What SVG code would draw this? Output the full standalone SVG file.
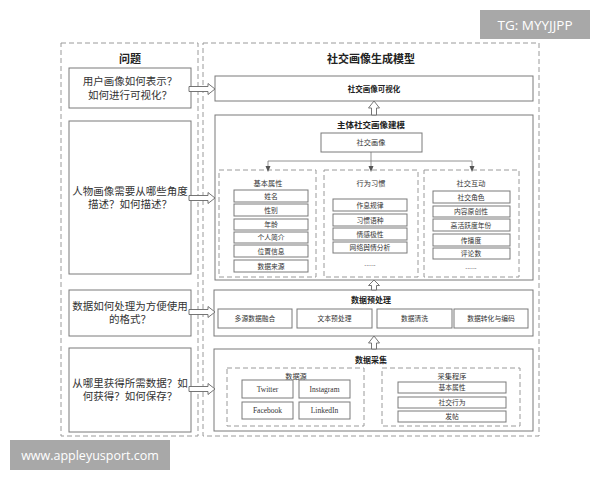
<svg xmlns="http://www.w3.org/2000/svg" width="600" height="480" viewBox="0 0 600 480">
<style>
.box{fill:#fff;stroke:#7a7a7a;stroke-width:1}
.dash{fill:none;stroke:#9a9a9a;stroke-width:1;stroke-dasharray:5,3}
.arr{fill:#fff;stroke:#666;stroke-width:0.9}
.ln{fill:none;stroke:#777;stroke-width:0.8}
.t{font-family:"Liberation Sans","Noto Sans CJK SC",sans-serif;fill:#333;text-anchor:middle}
.q{font-size:10.5px}
.h{font-size:11px;font-weight:bold;fill:#222}
.b{font-size:8px;font-weight:bold;fill:#222}
.s{font-size:7.2px}
.i{font-size:6.8px}
.e{font-family:"Liberation Serif",serif;font-size:7.5px;fill:#333;text-anchor:middle}
.wm{font-family:"Open Sans","DejaVu Sans",sans-serif;fill:#fff;text-anchor:middle}
</style>
<defs>
<path id="harr" class="arr" d="M0,-2.5 H19 V-5.5 L26,0 L19,5.5 V2.5 H0 Z"/>
<marker id="ah" markerWidth="6" markerHeight="6" refX="3" refY="3" orient="auto" markerUnits="userSpaceOnUse"><path d="M0,0.5 L6,3 L0,5.5 Z" fill="#555"/></marker>
</defs>
<rect width="600" height="480" fill="#fff"/>

<!-- columns -->
<g id="col-questions">
<rect class="dash" x="61" y="43" width="137" height="393"/>
<text class="t h" x="130" y="63">问题</text>
</g>
<g id="col-model">
<rect class="dash" x="203" y="43" width="336" height="393"/>
<text class="t h" x="371" y="63">社交画像生成模型</text>
</g>

<!-- questions -->
<g id="q1"><rect class="box" x="69" y="68" width="122" height="40"/>
<text class="t q" x="130" y="85">用户画像如何表示？</text><text class="t q" x="130" y="99">如何进行可视化？</text></g>
<g id="q2"><rect class="box" x="69" y="121" width="122" height="153"/>
<text class="t q" x="130" y="195">人物画像需要从哪些角度</text><text class="t q" x="130" y="208">描述？如何描述？</text></g>
<g id="q3"><rect class="box" x="69" y="290" width="122" height="46"/>
<text class="t q" x="130" y="310">数据如何处理为方便使用</text><text class="t q" x="130" y="323">的格式？</text></g>
<g id="q4"><rect class="box" x="69" y="348" width="122" height="84"/>
<text class="t q" x="130" y="387">从哪里获得所需数据？如</text><text class="t q" x="130" y="400">何获得？如何保存？</text></g>

<!-- visualization -->
<g id="vis"><rect class="box" x="215" y="76" width="318" height="25"/>
<text class="t b" x="374" y="91.5" style="font-size:7.5px">社交画像可视化</text></g>

<!-- modeling -->
<g id="modeling">
<rect class="box" x="215" y="115" width="318" height="165"/>
<text class="t b" x="371" y="128" style="font-size:8.5px">主体社交画像建模</text>
<rect class="box" x="321" y="133" width="101" height="19"/>
<text class="t s" x="371" y="145">社交画像</text>
</g>

<g id="basic">
<rect class="dash" x="219" y="170" width="97" height="107"/>
<text class="t s" x="268" y="186">基本属性</text>
<rect class="box" x="234" y="190" width="74" height="12"/><text class="t i" x="271" y="198.5">姓名</text>
<rect class="box" x="234" y="204" width="74" height="12"/><text class="t i" x="271" y="212.5">性别</text>
<rect class="box" x="234" y="219" width="74" height="11"/><text class="t i" x="271" y="227">年龄</text>
<rect class="box" x="234" y="232" width="74" height="11"/><text class="t i" x="271" y="240">个人简介</text>
<rect class="box" x="234" y="245" width="74" height="12"/><text class="t i" x="271" y="253.5">位置信息</text>
<rect class="box" x="234" y="260" width="74" height="12"/><text class="t i" x="271" y="268.5">数据来源</text>
</g>

<g id="behavior">
<rect class="dash" x="324" y="170" width="94" height="107"/>
<text class="t s" x="371" y="186">行为习惯</text>
<rect class="box" x="333" y="199" width="74" height="12"/><text class="t i" x="370" y="207.5">作息规律</text>
<rect class="box" x="333" y="214" width="74" height="12"/><text class="t i" x="370" y="222.5">习惯语种</text>
<rect class="box" x="333" y="228" width="74" height="12"/><text class="t i" x="370" y="236.5">情感极性</text>
<rect class="box" x="333" y="242" width="74" height="11"/><text class="t i" x="370" y="250">网络舆情分析</text>
<text class="t i" x="370" y="266">......</text>
</g>

<g id="social">
<rect class="dash" x="424" y="170" width="95" height="107"/>
<text class="t s" x="471" y="186">社交互动</text>
<rect class="box" x="433" y="191" width="77" height="12"/><text class="t i" x="471" y="199.5">社交角色</text>
<rect class="box" x="433" y="206" width="77" height="11"/><text class="t i" x="471" y="214">内容原创性</text>
<rect class="box" x="433" y="219" width="77" height="12"/><text class="t i" x="471" y="227.5">高活跃度年份</text>
<rect class="box" x="433" y="234" width="77" height="12"/><text class="t i" x="471" y="242.5">传播度</text>
<rect class="box" x="433" y="248" width="77" height="11"/><text class="t i" x="471" y="256">评论数</text>
<text class="t i" x="471" y="269">......</text>
</g>

<!-- preprocessing -->
<g id="preprocess">
<rect class="box" x="214" y="290" width="319" height="46"/>
<text class="t b" x="371" y="303">数据预处理</text>
<rect class="box" x="218" y="309" width="74" height="19"/><text class="t i" x="255" y="321">多源数据融合</text>
<rect class="box" x="297" y="309" width="75" height="19"/><text class="t i" x="334.5" y="321">文本预处理</text>
<rect class="box" x="377" y="309" width="75" height="19"/><text class="t i" x="414.5" y="321">数据清洗</text>
<rect class="box" x="454" y="309" width="74" height="19"/><text class="t i" x="491" y="321">数据转化与编码</text>
</g>

<!-- collection -->
<g id="collect">
<rect class="box" x="214" y="349" width="319" height="82"/>
<text class="t b" x="371" y="363">数据采集</text>
</g>
<g id="sources">
<rect class="dash" x="227" y="368" width="137" height="58"/>
<text class="t s" x="296" y="379">数据源</text>
<rect class="box" x="242" y="380" width="51" height="18"/><text class="e" x="267.5" y="391.5">Twitter</text>
<rect class="box" x="299" y="380" width="51" height="18"/><text class="e" x="324.5" y="391.5">Instagram</text>
<rect class="box" x="242" y="402" width="51" height="17"/><text class="e" x="267.5" y="413">Facebook</text>
<rect class="box" x="299" y="402" width="51" height="17"/><text class="e" x="324.5" y="413">LinkedIn</text>
</g>
<g id="program">
<rect class="dash" x="382" y="368" width="138" height="58"/>
<text class="t s" x="452" y="379">采集程序</text>
<rect class="box" x="398" y="382" width="108" height="11"/><text class="t i" x="452" y="390">基本属性</text>
<rect class="box" x="398" y="397" width="108" height="11"/><text class="t i" x="452" y="405">社交行为</text>
<rect class="box" x="398" y="411" width="108" height="11"/><text class="t i" x="452" y="419">发帖</text>
</g>

<!-- connectors -->
<g id="connectors">
<use href="#harr" x="189" y="89"/>
<use href="#harr" x="189" y="198"/>
<use href="#harr" x="189" y="312"/>
<use href="#harr" x="189" y="389"/>
<path class="arr" d="M371.5,115 V108 H368.5 L374,101 L379.5,108 H376.5 V115 Z"/>
<path class="arr" d="M371.5,290 V285.5 H368.5 L374,280 L379.5,285.5 H376.5 V290 Z"/>
<path class="arr" d="M371.5,349 V343 H368.5 L374,336 L379.5,343 H376.5 V349 Z"/>
<path class="ln" d="M371,152 V161"/>
<path class="ln" d="M268,161 H472"/>
<path class="ln" d="M268,161 V169" marker-end="url(#ah)"/>
<path class="ln" d="M371,161 V169" marker-end="url(#ah)"/>
<path class="ln" d="M472,161 V169" marker-end="url(#ah)"/>
</g>

<!-- watermarks -->
<g id="wm1"><rect x="480" y="10" width="110" height="29" fill="#a8a8a8"/>
<text class="wm" x="535" y="30" font-size="13.5">TG: MYYJJPP</text></g>
<g id="wm2"><rect x="10" y="440" width="160" height="30" fill="#a8a8a8"/>
<text class="wm" x="90" y="460" font-size="12.5">www.appleyusport.com</text></g>
</svg>
